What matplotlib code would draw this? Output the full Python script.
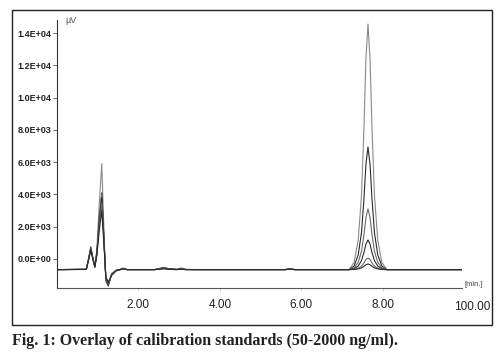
import matplotlib
matplotlib.use("Agg")
import matplotlib.pyplot as plt
from matplotlib.patches import Rectangle

# retention time points (min)
time = [0.00, 0.72, 0.78, 0.83, 0.88, 0.93, 0.98, 1.04, 1.10, 1.15, 1.20, 1.26,
        1.34, 1.45, 1.55, 1.62, 1.72, 2.40, 2.55, 2.62, 2.75, 2.95, 3.05, 3.15,
        3.40, 5.60, 5.72, 5.85, 7.18, 7.30, 7.40, 7.48, 7.54, 7.59, 7.64, 7.69,
        7.74, 7.80, 7.88, 7.98, 8.10, 8.60, 9.95]

# detector response (uV), one trace per standard, 2000 -> 50 ng/ml
trace_2000 = [-660, -640, 100, 780, 100, -450, 600, 3500, 5900, 2000, -1400, -1700,
              -900, -700, -660, -560, -660, -660, -560, -520, -600, -640, -560, -640,
              -660, -660, -600, -660, -660, -203, 1166, 3906, 8015, 12429, 14560, 12429,
              8015, 3906, 1166, -203, -660, -660, -660]
trace_1000 = [-660, -640, 60, 700, 80, -470, 450, 2600, 4100, 1500, -1300, -1650,
              -950, -700, -660, -580, -660, -660, -580, -540, -610, -650, -580, -650,
              -660, -660, -610, -660, -660, -432, 252, 1620, 3672, 5876, 6940, 5876,
              3672, 1620, 252, -432, -660, -660, -660]
trace_500 = [-660, -645, 40, 650, 60, -480, 400, 2500, 4000, 1400, -1250, -1600,
             -980, -710, -660, -590, -660, -660, -600, -560, -620, -655, -600, -655,
             -660, -660, -620, -660, -660, -547, -209, 468, 1483, 2574, 3100, 2574,
             1483, 468, -209, -547, -660, -660, -660]
trace_250 = [-660, -645, 20, 620, 40, -490, 350, 2300, 3800, 1300, -1200, -1550,
             -1000, -720, -660, -600, -660, -660, -610, -580, -630, -655, -610, -655,
             -660, -660, -630, -660, -660, -605, -439, -108, 389, 922, 1180, 922,
             389, -108, -439, -605, -660, -660, -660]
trace_100 = [-660, -650, 0, 600, 20, -500, 300, 2100, 3500, 1200, -1150, -1500,
             -1000, -730, -660, -610, -660, -660, -620, -600, -640, -660, -620, -660,
             -660, -660, -640, -660, -660, -638, -574, -444, -250, -41, 60, -41,
             -250, -444, -574, -638, -660, -660, -660]
trace_50 = [-660, -650, -20, 560, 0, -510, 250, 1800, 3000, 1000, -1100, -1450,
            -1020, -740, -660, -620, -660, -660, -630, -610, -645, -660, -630, -660,
            -660, -660, -645, -660, -660, -650, -618, -555, -460, -359, -310, -359,
            -460, -555, -618, -650, -660, -660, -660]

traces = [trace_2000, trace_1000, trace_500, trace_250, trace_100, trace_50]
colors = ["#8a8a8a", "#2a2a2a", "#6a6a6a", "#2a2a2a", "#6a6a6a", "#2a2a2a"]

y_ticks = [0, 2000, 4000, 6000, 8000, 10000, 12000, 14000]
y_labels = ["0.0E+00", "2.0E+03", "4.0E+03", "6.0E+03", "8.0E+03",
            "1.0E+04", "1.2E+04", "1.4E+04"]
x_ticks = [2, 4, 6, 8]
x_labels = ["2.00", "4.00", "6.00", "8.00"]


def main():
    plt.rcParams["font.family"] = ["Liberation Sans", "DejaVu Sans"]
    fig = plt.figure(figsize=(5, 3.6), dpi=100)
    ax = fig.add_axes([0.114, 0.2, 0.81, 0.744])

    for tr, c in zip(traces, colors):
        ax.plot(time, tr, color=c, lw=0.8)

    ax.set_xlim(0, 9.95)
    ax.set_ylim(-1800, 14800)
    ax.set_yticks(y_ticks)
    ax.set_yticklabels(y_labels, fontsize=6.5, color="#222222", weight="bold")
    ax.set_xticks(x_ticks)
    ax.set_xticklabels(x_labels, fontsize=8.5, color="#222222")
    ax.tick_params(axis="y", length=3, width=0.6, color="#555555", pad=1)
    ax.tick_params(axis="x", length=2, width=0.5, color="#bbbbbb", pad=6)
    for spine in ["top", "right"]:
        ax.spines[spine].set_visible(False)
    ax.spines["left"].set_linewidth(0.8)
    ax.spines["left"].set_color("#333333")
    ax.spines["bottom"].set_linewidth(0.8)
    ax.spines["bottom"].set_color("#555555")

    # odd last tick label and units, as on the instrument printout
    ax.text(1.025, -0.05, "100.00", transform=ax.transAxes, fontsize=8.5,
            color="#222222", ha="center", va="top")
    ax.text(1.005, 0.0, "[min.]", transform=ax.transAxes, fontsize=5.5,
            color="#444444", ha="left", va="bottom")
    ax.text(0.02, 1.0, "µV", transform=ax.transAxes, fontsize=6.5,
            color="#555555", ha="left", va="center")

    # outer frame
    fig.add_artist(Rectangle((12 / 500, 1 - 325 / 360), 480 / 500, 315 / 360,
                             transform=fig.transFigure, fill=False,
                             lw=1.0, ec="#222222"))
    fig.text(12 / 500, 1 - 341 / 360,
             "Fig. 1: Overlay of calibration standards (50-2000 ng/ml).",
             family="Liberation Serif", weight="bold", fontsize=11.5,
             color="#222222", ha="left", va="center")

    fig.savefig("out.png", dpi=100)


if __name__ == "__main__":
    main()
